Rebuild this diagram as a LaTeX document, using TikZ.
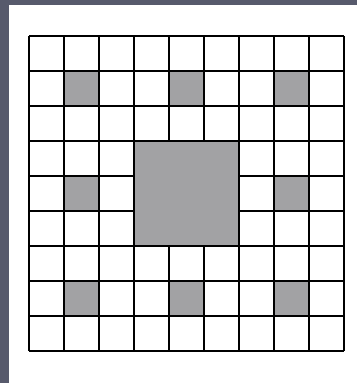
\documentclass[tikz,border=0pt]{standalone}
\definecolor{framec}{HTML}{575A6C}
\definecolor{cellgray}{HTML}{A2A2A4}
\begin{document}
\begin{tikzpicture}[x=1pt,y=-1pt,
  gridline/.style={line width=1.8pt,black},
  filled/.style={fill=cellgray}]
\useasboundingbox (0,0) rectangle (357,383);
\fill[white] (0,0) rectangle (357,383);
\fill[framec] (0,0) rectangle (8.5,383);
\fill[framec] (0,0) rectangle (357,5);
% gray cells
\foreach \c/\r in {1/1,4/1,7/1,1/4,7/4,1/7,4/7,7/7}
  \fill[filled] (29+35*\c,36+35*\r) rectangle ++(35,35);
\fill[filled] (29+35*3,36+35*3) rectangle ++(105,105);
% grid lines
\foreach \i in {0,...,9}{
  \draw[gridline] (29+35*\i,36) -- (29+35*\i,351);
  \draw[gridline] (29,36+35*\i) -- (344,36+35*\i);
}
% hide inner lines of central square
\fill[filled] (29+35*3+1,36+35*3+1) rectangle ++(103,103);
\draw[gridline] (29+35*3,36+35*3) rectangle ++(105,105);
\end{tikzpicture}
\end{document}
